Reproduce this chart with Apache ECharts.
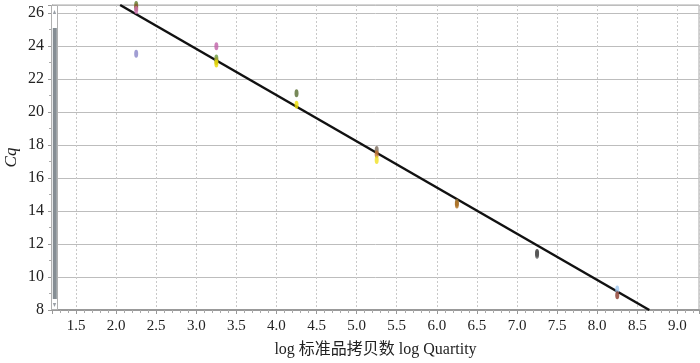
<!DOCTYPE html>
<html>
<head>
    <meta charset="utf-8">
    <title>Standard curve</title>
    <script src="https://cdn.jsdelivr.net/npm/echarts/dist/echarts.min.js"></script>
    <style>
        html, body { margin: 0; padding: 0; background: #fff; }
    </style>
</head>
<body>
    <div id="main" style="width: 700px;height:363px;"></div>
    <script>
        // standards: log quantity vs Cq, one entry per replicate well
        var stdLogQty = [2.25, 2.25, 2.25, 2.25, 3.25, 3.25, 3.25, 3.25, 4.25, 4.25,
                         5.25, 5.25, 5.25, 6.25, 6.25, 7.25, 7.25, 8.25, 8.25];
        var stdCq = [26.5, 26.35, 26.2, 23.55, 24.0, 23.25, 23.1, 22.95, 21.15, 20.45,
                     17.7, 17.45, 17.1, 14.5, 14.4, 11.45, 11.35, 9.25, 8.9];
        var stdColors = ['#5f7a2a', '#8b5a2b', '#d070b0', '#8a86c8', '#c060a8', '#6a9a40',
                         '#a0a030', '#e8d800', '#556b2f', '#f0e000', '#7a6a5a', '#c07030',
                         '#f0e020', '#8b6a30', '#b07020', '#333333', '#555555', '#a0c8f0', '#8b3a2a'];

        // regression line end points
        var fitLogQty = [2.05, 8.65];
        var fitCq = [26.5, 8.0];

        var chartDom = document.getElementById('main');
        var myChart = echarts.init(chartDom);

        var serif = "'Liberation Serif', 'Times New Roman', serif";

        var points = stdLogQty.map(function (x, i) {
            return { value: [x, stdCq[i]], itemStyle: { color: stdColors[i] } };
        });
        var fitData = fitLogQty.map(function (x, i) { return [x, fitCq[i]]; });

        var option = {
            animation: false,
            grid: {
                left: 52, right: 1, top: 5, bottom: 53,
                outerBoundsMode: 'none',
                containLabel: false,
                show: true,
                borderColor: '#a8a8a8',
                borderWidth: 1
            },
            xAxis: {
                type: 'value',
                min: 1.2,
                max: 9.27,
                minInterval: 0.5,
                maxInterval: 0.5,
                name: 'log 标准品拷贝数 log Quartity',
                nameLocation: 'middle',
                nameGap: 32,
                nameTextStyle: { fontFamily: serif + ", 'Noto Sans CJK SC'", fontSize: 16, color: '#222' },
                axisLine: { lineStyle: { color: '#999', width: 2 } },
                axisTick: { show: true, length: 4, lineStyle: { color: '#999' } },
                minorTick: { show: true, splitNumber: 5, length: 3, lineStyle: { color: '#aaa' } },
                axisLabel: {
                    fontFamily: serif, fontSize: 15, color: '#222', margin: 9,
                    showMinLabel: false, showMaxLabel: false,
                    formatter: function (v) { return v.toFixed(1); }
                },
                splitLine: { show: true, lineStyle: { color: '#c8c8c8', type: [2, 2] } }
            },
            yAxis: {
                type: 'value',
                min: 8,
                max: 26.5,
                interval: 2,
                name: 'Cq',
                nameLocation: 'middle',
                nameGap: 32,
                nameMoveOverlap: false,
                nameTextStyle: { fontFamily: serif, fontSize: 17, fontStyle: 'italic', color: '#222' },
                axisLine: { show: true, lineStyle: { color: '#999' } },
                axisTick: { show: true, length: 4, lineStyle: { color: '#999' } },
                minorTick: { show: true, splitNumber: 2, length: 3, lineStyle: { color: '#aaa' } },
                axisLabel: {
                    fontFamily: serif, fontSize: 16, color: '#222', margin: 8,
                    showMaxLabel: false
                },
                splitLine: { show: true, lineStyle: { color: '#bdbdbd', width: 1 } }
            },
            // scrollbar drawn by the original software along the y axis
            graphic: [
                { type: 'rect', shape: { x: 51.5, y: 5.5, width: 6, height: 304 },
                  style: { fill: '#fff', stroke: '#b0b0b0', lineWidth: 1 }, z: 100 },
                { type: 'rect', shape: { x: 52.8, y: 28, width: 4, height: 271 },
                  style: { fill: '#868e94' }, z: 101 },
                { type: 'polygon', shape: { points: [[54.5, 10], [52.8, 14], [56.2, 14]] },
                  style: { fill: '#9aa0a6' }, z: 101 },
                { type: 'polygon', shape: { points: [[54.5, 307], [52.8, 303], [56.2, 303]] },
                  style: { fill: '#9aa0a6' }, z: 101 }
            ],
            series: [
                {
                    type: 'line',
                    data: fitData,
                    symbol: 'none',
                    clip: true,
                    lineStyle: { color: '#111', width: 2.5 },
                    z: 3
                },
                {
                    type: 'scatter',
                    data: points,
                    symbol: 'circle',
                    symbolSize: [4, 8],
                    clip: true,
                    z: 4
                }
            ]
        };

        myChart.setOption(option);
    </script>
</body>
</html>
